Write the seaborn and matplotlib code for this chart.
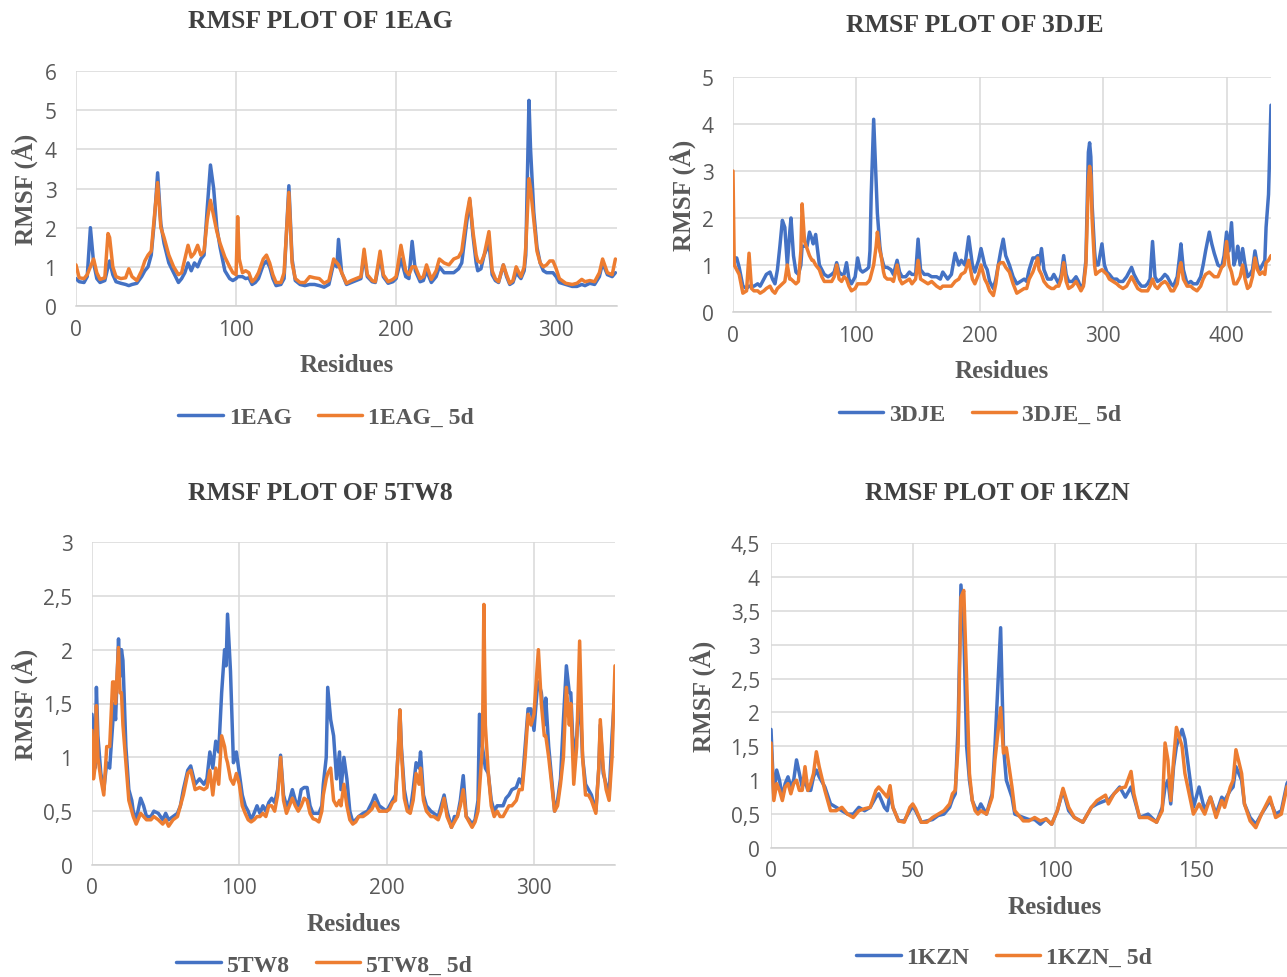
import numpy as np
import pandas as pd
import matplotlib
matplotlib.use("Agg")
import matplotlib.pyplot as plt
from matplotlib.ticker import FuncFormatter, MultipleLocator, FixedLocator
import seaborn as sns

# --- 1EAG: residue, apo RMSF, complex RMSF ---
res_1eag = [0, 2, 5, 7, 9, 11, 13, 15, 18, 20, 21, 23, 25, 28, 31, 33, 35, 38, 41, 43,
            45, 47, 49, 51, 53, 55, 58, 61, 64, 66, 68, 70, 72, 74, 76, 78, 80, 82, 84, 86,
            88, 90, 93, 96, 98, 100, 101, 102, 104, 106, 108, 110, 112, 114, 117, 119, 121, 123, 125, 128,
            130, 133, 135, 137, 140, 143, 146, 149, 152, 155, 158, 161, 163, 164, 166, 169, 172, 175, 178, 180,
            182, 185, 187, 190, 192, 195, 198, 200, 203, 206, 208, 210, 212, 215, 217, 219, 222, 225, 227, 230,
            233, 236, 239, 241, 244, 246, 248, 250, 251, 253, 255, 258, 260, 262, 264, 267, 269, 271, 273, 275,
            278, 280, 281, 283, 284, 286, 288, 290, 292, 294, 296, 298, 300, 302, 306, 310, 313, 316, 318, 321,
            324, 327, 329, 332, 335, 337]
apo_1eag = [0.70, 0.62, 0.60, 0.75, 2.00, 1.10, 0.70, 0.60, 0.65, 1.00, 1.15, 0.80, 0.62, 0.58, 0.55, 0.52, 0.55, 0.58, 0.75, 0.90,
            1.00, 1.30, 2.20, 3.40, 2.10, 1.60, 1.10, 0.85, 0.60, 0.70, 0.85, 1.10, 0.90, 1.10, 1.00, 1.20, 1.30, 2.50, 3.60, 3.00,
            2.00, 1.50, 0.90, 0.70, 0.65, 0.70, 0.75, 0.75, 0.75, 0.70, 0.72, 0.55, 0.60, 0.70, 1.05, 1.15, 1.00, 0.70, 0.52, 0.55,
            0.70, 3.07, 1.20, 0.65, 0.55, 0.52, 0.55, 0.55, 0.52, 0.48, 0.55, 1.10, 1.00, 1.70, 0.85, 0.55, 0.60, 0.65, 0.70, 1.30,
            0.75, 0.62, 0.60, 1.25, 0.75, 0.58, 0.62, 0.70, 1.20, 0.75, 0.70, 1.65, 0.90, 0.62, 0.65, 0.90, 0.60, 0.75, 1.00, 0.85,
            0.85, 0.85, 0.95, 1.10, 2.10, 2.70, 1.80, 1.10, 0.90, 0.95, 1.30, 1.60, 0.80, 0.65, 0.60, 1.05, 0.75, 0.55, 0.60, 0.85,
            0.70, 0.90, 1.30, 5.25, 4.00, 2.40, 1.50, 1.10, 0.90, 0.85, 0.85, 0.85, 0.75, 0.60, 0.55, 0.50, 0.50, 0.55, 0.52, 0.58,
            0.55, 0.75, 1.10, 0.80, 0.75, 0.85]
lig_1eag = [1.05, 0.72, 0.70, 0.80, 1.00, 1.20, 0.85, 0.68, 0.72, 1.85, 1.75, 1.00, 0.75, 0.70, 0.72, 0.95, 0.75, 0.65, 0.90, 1.15,
            1.30, 1.40, 2.30, 3.15, 2.00, 1.75, 1.30, 1.00, 0.80, 0.85, 1.20, 1.55, 1.25, 1.35, 1.55, 1.30, 1.40, 2.20, 2.70, 2.30,
            1.90, 1.60, 1.25, 1.00, 0.85, 0.80, 2.28, 1.20, 0.85, 0.90, 0.85, 0.62, 0.70, 0.85, 1.20, 1.30, 1.10, 0.80, 0.60, 0.60,
            0.85, 2.90, 1.10, 0.70, 0.60, 0.60, 0.75, 0.72, 0.70, 0.58, 0.65, 1.20, 1.10, 1.05, 0.85, 0.58, 0.65, 0.70, 0.75, 1.45,
            0.80, 0.65, 0.62, 1.40, 0.80, 0.62, 0.68, 0.75, 1.55, 0.90, 0.80, 1.00, 1.00, 0.70, 0.75, 1.05, 0.68, 0.90, 1.20, 1.10,
            1.05, 1.20, 1.25, 1.40, 2.30, 2.75, 1.90, 1.30, 1.15, 1.10, 1.30, 1.90, 0.90, 0.70, 0.62, 1.05, 0.80, 0.58, 0.65, 1.00,
            0.75, 1.00, 1.50, 3.25, 3.00, 2.20, 1.40, 1.10, 1.00, 1.05, 1.15, 1.15, 0.95, 0.70, 0.58, 0.55, 0.58, 0.68, 0.62, 0.65,
            0.62, 0.85, 1.20, 0.85, 0.80, 1.20]

# --- 3DJE ---
res_3dje = [0, 1, 3, 5, 8, 11, 13, 15, 17, 20, 22, 25, 27, 30, 32, 34, 36, 38, 40, 42,
            44, 46, 47, 49, 51, 53, 55, 56, 58, 60, 62, 64, 65, 67, 70, 72, 74, 77, 80, 82,
            84, 86, 88, 90, 92, 94, 96, 99, 101, 103, 105, 108, 110, 111, 112, 114, 116, 117, 119, 120,
            122, 123, 125, 128, 130, 133, 135, 137, 140, 143, 145, 148, 150, 152, 155, 158, 161, 165, 168, 170,
            174, 177, 180, 183, 185, 188, 191, 194, 196, 199, 201, 204, 206, 208, 211, 213, 215, 217, 219, 221,
            224, 227, 230, 233, 236, 238, 240, 243, 245, 247, 248, 250, 252, 255, 258, 260, 262, 264, 266, 268,
            270, 272, 275, 278, 280, 282, 284, 286, 288, 289, 290, 291, 293, 294, 296, 299, 301, 303, 305, 308,
            311, 313, 316, 319, 321, 323, 325, 328, 331, 334, 336, 338, 340, 342, 344, 347, 350, 352, 355, 357,
            360, 362, 363, 365, 368, 371, 373, 376, 379, 381, 383, 386, 388, 390, 393, 396, 398, 400, 402, 404,
            406, 408, 409, 411, 413, 415, 417, 419, 421, 423, 425, 427, 429, 431, 432, 434, 436]
apo_3dje = [1.20, 1.15, 1.15, 0.95, 0.55, 0.50, 0.55, 0.55, 0.55, 0.60, 0.55, 0.70, 0.80, 0.85, 0.70, 0.60, 0.90, 1.40, 1.95, 1.80,
            1.00, 1.70, 2.00, 1.20, 0.85, 0.80, 1.00, 1.40, 1.40, 1.40, 1.70, 1.55, 1.45, 1.65, 1.00, 0.90, 0.80, 0.75, 0.80, 0.85,
            1.05, 0.85, 0.80, 0.80, 1.05, 0.70, 0.60, 0.75, 1.15, 0.90, 0.85, 0.90, 0.95, 1.30, 2.50, 4.10, 2.80, 2.10, 1.40, 1.20,
            1.00, 0.95, 0.95, 0.90, 0.80, 1.10, 0.85, 0.75, 0.75, 0.85, 0.80, 0.80, 1.55, 0.90, 0.80, 0.80, 0.75, 0.75, 0.70, 0.85,
            0.70, 0.80, 1.25, 1.00, 1.10, 1.00, 1.60, 1.00, 0.85, 1.10, 1.35, 1.00, 0.90, 0.65, 0.50, 0.70, 1.00, 1.30, 1.55, 1.20,
            1.00, 0.75, 0.60, 0.65, 0.70, 0.65, 0.90, 1.15, 1.15, 1.20, 1.00, 1.35, 0.90, 0.70, 0.70, 0.80, 0.70, 0.60, 0.80, 1.20,
            0.80, 0.65, 0.65, 0.75, 0.65, 0.50, 0.60, 1.10, 3.40, 3.60, 3.30, 2.30, 1.30, 1.00, 1.00, 1.45, 1.00, 0.85, 0.80, 0.70,
            0.70, 0.65, 0.65, 0.75, 0.85, 0.95, 0.80, 0.65, 0.55, 0.55, 0.60, 0.70, 1.50, 0.75, 0.65, 0.70, 0.80, 0.75, 0.60, 0.55,
            0.75, 1.20, 1.45, 0.90, 0.60, 0.65, 0.60, 0.60, 0.75, 1.00, 1.30, 1.70, 1.45, 1.25, 1.00, 0.95, 1.20, 1.70, 1.30, 1.90,
            1.00, 1.20, 1.40, 1.00, 1.35, 1.00, 0.75, 0.80, 0.90, 1.30, 1.00, 0.90, 1.00, 1.10, 1.80, 2.50, 4.40]
lig_3dje = [3.00, 1.00, 0.90, 0.80, 0.40, 0.45, 1.25, 0.50, 0.45, 0.45, 0.40, 0.45, 0.50, 0.55, 0.45, 0.40, 0.50, 0.55, 0.60, 0.65,
            1.00, 0.70, 0.70, 0.65, 0.60, 0.65, 1.30, 2.30, 1.50, 1.35, 1.20, 1.10, 1.10, 1.00, 0.90, 0.75, 0.65, 0.65, 0.65, 0.75,
            1.00, 0.70, 0.65, 0.75, 0.70, 0.55, 0.45, 0.50, 0.60, 0.60, 0.60, 0.60, 0.65, 0.70, 0.80, 1.00, 1.40, 1.70, 1.30, 1.20,
            0.85, 0.75, 0.70, 0.70, 0.65, 1.00, 0.70, 0.60, 0.65, 0.70, 0.60, 0.70, 1.10, 0.70, 0.65, 0.60, 0.65, 0.55, 0.50, 0.55,
            0.55, 0.55, 0.65, 0.70, 0.80, 0.85, 1.10, 0.70, 0.60, 0.80, 1.00, 0.70, 0.60, 0.45, 0.35, 0.60, 1.00, 1.05, 1.05, 0.95,
            0.85, 0.60, 0.40, 0.45, 0.50, 0.50, 0.70, 0.85, 1.00, 1.15, 0.90, 0.80, 0.65, 0.55, 0.50, 0.50, 0.55, 0.55, 0.70, 1.05,
            0.65, 0.50, 0.55, 0.65, 0.55, 0.45, 0.55, 1.00, 2.80, 3.10, 2.90, 2.00, 1.00, 0.80, 0.85, 0.90, 0.85, 0.80, 0.70, 0.65,
            0.60, 0.55, 0.50, 0.55, 0.65, 0.75, 0.65, 0.50, 0.45, 0.45, 0.45, 0.55, 0.70, 0.55, 0.50, 0.60, 0.65, 0.60, 0.45, 0.45,
            0.60, 0.95, 1.05, 0.70, 0.55, 0.55, 0.50, 0.45, 0.55, 0.70, 0.80, 0.85, 0.80, 0.75, 0.75, 0.95, 1.00, 1.50, 1.00, 0.85,
            0.60, 0.60, 0.65, 0.75, 1.00, 0.70, 0.50, 0.55, 0.75, 1.15, 0.90, 0.80, 0.85, 0.80, 1.05, 1.10, 1.20]

# --- 5TW8 ---
res_5tw8 = [0, 1, 2, 3, 4, 6, 8, 10, 12, 14, 15, 16, 18, 19, 20, 21, 23, 25, 27, 28,
            30, 33, 35, 37, 40, 42, 45, 48, 50, 52, 55, 58, 60, 62, 65, 67, 70, 73, 76, 78,
            80, 82, 84, 86, 88, 90, 91, 92, 94, 96, 98, 100, 102, 104, 106, 108, 110, 112, 114, 116,
            118, 120, 122, 124, 126, 128, 130, 132, 134, 136, 138, 140, 142, 144, 146, 148, 150, 152, 154, 156,
            157, 159, 160, 162, 164, 166, 168, 169, 171, 173, 175, 177, 179, 181, 184, 187, 190, 192, 195, 198,
            200, 202, 204, 206, 208, 209, 210, 212, 214, 216, 218, 220, 222, 223, 225, 227, 230, 232, 235, 237,
            239, 241, 244, 246, 248, 250, 252, 254, 256, 258, 260, 262, 263, 265, 266, 267, 269, 271, 273, 275,
            277, 279, 281, 283, 285, 288, 290, 292, 294, 296, 298, 300, 302, 303, 305, 307, 308, 310, 312, 314,
            316, 318, 320, 322, 324, 325, 327, 329, 331, 333, 335, 337, 339, 341, 342, 344, 345, 347, 349, 351,
            353, 355]
apo_5tw8 = [1.40, 1.20, 0.90, 1.65, 1.20, 0.85, 0.70, 0.95, 0.90, 1.30, 1.50, 1.35, 2.10, 1.75, 2.00, 1.90, 1.10, 0.70, 0.60, 0.50,
            0.42, 0.62, 0.55, 0.45, 0.45, 0.50, 0.48, 0.42, 0.48, 0.42, 0.45, 0.48, 0.55, 0.70, 0.88, 0.92, 0.75, 0.80, 0.75, 0.80,
            1.05, 0.90, 1.15, 1.05, 1.60, 2.00, 1.85, 2.33, 1.80, 0.95, 1.05, 0.85, 0.65, 0.55, 0.50, 0.42, 0.48, 0.55, 0.48, 0.55,
            0.50, 0.58, 0.62, 0.58, 0.70, 1.02, 0.65, 0.55, 0.60, 0.70, 0.60, 0.55, 0.70, 0.72, 0.72, 0.55, 0.48, 0.48, 0.48, 0.55,
            0.75, 1.00, 1.65, 1.35, 1.20, 0.80, 1.05, 0.70, 1.00, 0.80, 0.50, 0.40, 0.42, 0.45, 0.48, 0.50, 0.58, 0.65, 0.55, 0.52,
            0.50, 0.55, 0.60, 0.65, 1.10, 1.44, 1.10, 0.70, 0.55, 0.50, 0.70, 0.95, 0.90, 1.05, 0.65, 0.55, 0.50, 0.48, 0.45, 0.55,
            0.65, 0.50, 0.35, 0.45, 0.45, 0.60, 0.83, 0.45, 0.42, 0.38, 0.42, 0.60, 1.40, 1.10, 1.00, 0.90, 0.85, 0.60, 0.50, 0.55,
            0.55, 0.55, 0.62, 0.65, 0.70, 0.72, 0.80, 0.75, 1.10, 1.45, 1.45, 1.25, 1.60, 1.70, 1.60, 1.30, 1.55, 1.10, 0.80, 0.50,
            0.60, 0.80, 1.35, 1.85, 1.60, 1.60, 0.95, 1.20, 1.60, 1.00, 0.75, 0.70, 0.65, 0.55, 0.50, 0.90, 1.30, 0.85, 0.75, 0.65,
            1.20, 1.65]
lig_5tw8 = [1.25, 0.80, 0.90, 1.48, 1.00, 0.80, 0.65, 1.10, 1.10, 1.70, 1.70, 1.50, 2.02, 1.60, 1.60, 1.30, 0.95, 0.60, 0.50, 0.45,
            0.38, 0.48, 0.45, 0.42, 0.42, 0.45, 0.42, 0.38, 0.42, 0.36, 0.42, 0.45, 0.55, 0.65, 0.85, 0.88, 0.70, 0.72, 0.70, 0.72,
            0.88, 0.65, 0.90, 0.75, 1.20, 1.10, 1.00, 0.95, 0.80, 0.75, 0.85, 0.75, 0.55, 0.48, 0.42, 0.40, 0.42, 0.45, 0.45, 0.48,
            0.45, 0.55, 0.55, 0.50, 0.65, 1.00, 0.60, 0.48, 0.55, 0.62, 0.55, 0.50, 0.55, 0.62, 0.60, 0.48, 0.43, 0.42, 0.40, 0.50,
            0.65, 0.80, 0.85, 0.90, 0.60, 0.55, 0.60, 0.55, 0.75, 0.55, 0.42, 0.38, 0.40, 0.45, 0.45, 0.48, 0.52, 0.58, 0.50, 0.50,
            0.50, 0.52, 0.58, 0.60, 1.10, 1.44, 1.05, 0.62, 0.50, 0.48, 0.60, 0.85, 0.75, 0.90, 0.60, 0.50, 0.45, 0.45, 0.42, 0.50,
            0.62, 0.45, 0.35, 0.40, 0.45, 0.55, 0.70, 0.45, 0.40, 0.35, 0.40, 0.50, 0.70, 1.10, 2.42, 1.30, 0.85, 0.55, 0.45, 0.50,
            0.45, 0.45, 0.50, 0.55, 0.55, 0.60, 0.70, 0.70, 1.00, 1.40, 1.30, 1.40, 1.80, 2.00, 1.50, 1.20, 1.20, 1.00, 0.75, 0.50,
            0.55, 0.75, 1.00, 1.65, 1.30, 1.50, 0.75, 1.10, 2.08, 1.00, 0.65, 0.65, 0.60, 0.52, 0.48, 0.90, 1.35, 0.90, 0.70, 0.60,
            1.00, 1.85]

# --- 1KZN ---
res_1kzn = [0, 1, 2, 3, 4, 5, 6, 7, 8, 9, 10, 11, 12, 13, 14, 15, 16, 17, 19, 21,
            23, 25, 27, 29, 31, 33, 35, 37, 38, 40, 41, 42, 43, 45, 47, 49, 50, 51, 53, 55,
            57, 59, 61, 63, 64, 65, 66, 67, 68, 69, 70, 71, 72, 73, 74, 76, 78, 79, 81, 82,
            83, 85, 86, 89, 91, 93, 95, 97, 99, 101, 103, 105, 107, 110, 113, 115, 118, 119, 121, 123,
            125, 127, 128, 130, 133, 136, 138, 139, 140, 141, 142, 143, 145, 146, 148, 149, 151, 153, 155, 157,
            159, 160, 162, 163, 164, 166, 167, 169, 171, 173, 176, 178, 180, 182, 184]
apo_1kzn = [1.75, 0.75, 1.15, 1.00, 0.75, 0.95, 1.05, 0.90, 1.00, 1.30, 1.10, 0.90, 1.00, 0.85, 0.85, 1.05, 1.15, 1.05, 0.90, 0.65,
            0.60, 0.55, 0.50, 0.50, 0.60, 0.55, 0.60, 0.75, 0.80, 0.60, 0.55, 0.80, 0.60, 0.40, 0.40, 0.55, 0.62, 0.55, 0.38, 0.40,
            0.42, 0.48, 0.50, 0.60, 0.72, 0.80, 1.80, 3.88, 3.20, 1.50, 1.00, 0.70, 0.60, 0.55, 0.65, 0.50, 0.80, 1.50, 3.25, 1.50,
            1.00, 0.75, 0.50, 0.45, 0.42, 0.42, 0.35, 0.43, 0.35, 0.55, 0.85, 0.55, 0.45, 0.38, 0.60, 0.65, 0.70, 0.70, 0.80, 0.90,
            0.75, 0.90, 0.75, 0.45, 0.50, 0.38, 0.60, 0.90, 1.00, 0.65, 1.20, 1.50, 1.75, 1.60, 0.95, 0.60, 0.90, 0.55, 0.75, 0.50,
            0.75, 0.70, 0.85, 0.90, 1.20, 1.00, 0.65, 0.45, 0.35, 0.50, 0.70, 0.50, 0.55, 0.95, 1.10]
lig_1kzn = [1.55, 0.70, 0.95, 0.85, 0.70, 0.90, 0.95, 0.80, 0.95, 1.00, 0.85, 0.85, 1.20, 0.85, 0.95, 1.10, 1.42, 1.20, 0.85, 0.55,
            0.55, 0.60, 0.50, 0.45, 0.55, 0.58, 0.60, 0.85, 0.90, 0.80, 0.75, 0.92, 0.60, 0.40, 0.38, 0.60, 0.65, 0.58, 0.38, 0.38,
            0.45, 0.50, 0.55, 0.65, 0.80, 0.85, 1.50, 3.70, 3.80, 2.50, 1.10, 0.70, 0.55, 0.50, 0.55, 0.50, 0.75, 1.30, 2.07, 1.40,
            1.48, 0.90, 0.55, 0.40, 0.40, 0.45, 0.40, 0.43, 0.35, 0.55, 0.88, 0.60, 0.45, 0.38, 0.60, 0.70, 0.78, 0.65, 0.80, 0.88,
            0.90, 1.13, 0.80, 0.45, 0.45, 0.38, 0.55, 1.55, 1.30, 0.70, 1.30, 1.78, 1.50, 1.10, 0.70, 0.50, 0.65, 0.50, 0.75, 0.45,
            0.70, 0.60, 0.90, 1.00, 1.45, 1.10, 0.65, 0.40, 0.30, 0.50, 0.75, 0.45, 0.50, 0.90, 1.00]

BLUE = "#4472C4"
ORANGE = "#ED7D31"
GREY = "#595959"
W, H = 1287, 978

sns.set_theme(style="whitegrid")
plt.rcParams["font.family"] = ["Open Sans", "DejaVu Sans"]

fig = plt.figure(figsize=(W / 100, H / 100), dpi=100)

# (name, residues, apo, ligand, axes box in px [left, right, top, bottom], xlim, xticks, ymax, ystep,
#  title xy, ylabel x, legend xy, comma decimals, ytick pad)
panels = [
    ("1EAG", res_1eag, apo_1eag, lig_1eag, (76, 617, 72, 307), 338, [0, 100, 200, 300], 6, 1, (320, 22), 25, (326, 418), False, 14),
    ("3DJE", res_3dje, apo_3dje, lig_3dje, (733, 1271, 78, 313), 436, [0, 100, 200, 300, 400], 5, 1, (975, 25), 683, (980, 415), False, 14),
    ("5TW8", res_5tw8, apo_5tw8, lig_5tw8, (92, 615, 543, 866), 355, [0, 100, 200, 300], 3, 0.5, (320, 494), 25, (324, 966), True, 14),
    ("1KZN", res_1kzn, apo_1kzn, lig_1kzn, (771, 1338, 544, 849), 200, [0, 50, 100, 150], 4.5, 0.5, (997, 494), 703, (1004, 958), True, 8),
]

serif = dict(family="Liberation Serif", weight="bold", color=GREY)

for (name, res, apo, lig, box, xmax, xticks, ymax, ystep, title_xy, ylab_x, leg_xy, comma, ypad) in panels:
    l, r, t, b = box
    ax = fig.add_axes([l / W, 1 - b / H, (r - l) / W, (b - t) / H])

    df = pd.DataFrame({
        "Residues": res + res,
        "RMSF": apo + lig,
        "System": [name] * len(res) + [name + "_ 5d"] * len(res),
    })
    sns.lineplot(data=df, x="Residues", y="RMSF", hue="System", palette=[BLUE, ORANGE],
                 estimator=None, linewidth=2.5, ax=ax)

    ax.set_xlim(0, xmax)
    ax.set_ylim(0, ymax)
    ax.xaxis.set_major_locator(FixedLocator(xticks))
    ax.yaxis.set_major_locator(MultipleLocator(ystep))
    if comma:
        ax.yaxis.set_major_formatter(FuncFormatter(lambda v, _: f"{v:g}".replace(".", ",")))
    else:
        ax.yaxis.set_major_formatter(FuncFormatter(lambda v, _: f"{v:g}"))

    ax.grid(True, color="#d9d9d9", linewidth=1.1)
    if name == "1KZN":
        # the cut-off chart still shows the gridline at 200 beyond the picture edge
        ax.axvline(200, color="#d9d9d9", linewidth=1.1, zorder=0)
    ax.set_facecolor("white")
    for side in ["top", "right", "left"]:
        ax.spines[side].set_visible(False)
    ax.spines["bottom"].set_color("#d0d0d0")
    ax.spines["bottom"].set_linewidth(1.1)
    ax.tick_params(axis="both", length=0, labelsize=15, colors=GREY)
    ax.tick_params(axis="y", pad=ypad)
    ax.tick_params(axis="x", pad=9)

    ax.set_xlabel("Residues", fontsize=18, **serif)
    ax.xaxis.set_label_coords(0.5, -59 / (b - t))
    ax.xaxis.label.set_va("center")
    ax.set_ylabel("RMSF (Å)", fontsize=18, **serif)
    ax.yaxis.set_label_coords(-(l - ylab_x) / (r - l), 0.5)
    ax.yaxis.label.set_va("center")

    fig.text(title_xy[0] / W, 1 - title_xy[1] / H, f"RMSF PLOT OF {name}",
             ha="center", va="center", fontsize=18.5, family="Liberation Serif",
             weight="bold", color="#404040")

    leg = ax.legend(loc="center", bbox_to_anchor=(leg_xy[0] / W, 1 - leg_xy[1] / H),
                    bbox_transform=fig.transFigure, ncol=2, frameon=False,
                    handlelength=1.9, handletextpad=0.25, columnspacing=1.1,
                    prop={"family": "Liberation Serif", "weight": "bold", "size": 17})
    for txt in leg.get_texts():
        txt.set_color(GREY)
    for line in leg.get_lines():
        line.set_linewidth(2.5)

fig.savefig("out.png", dpi=100)
